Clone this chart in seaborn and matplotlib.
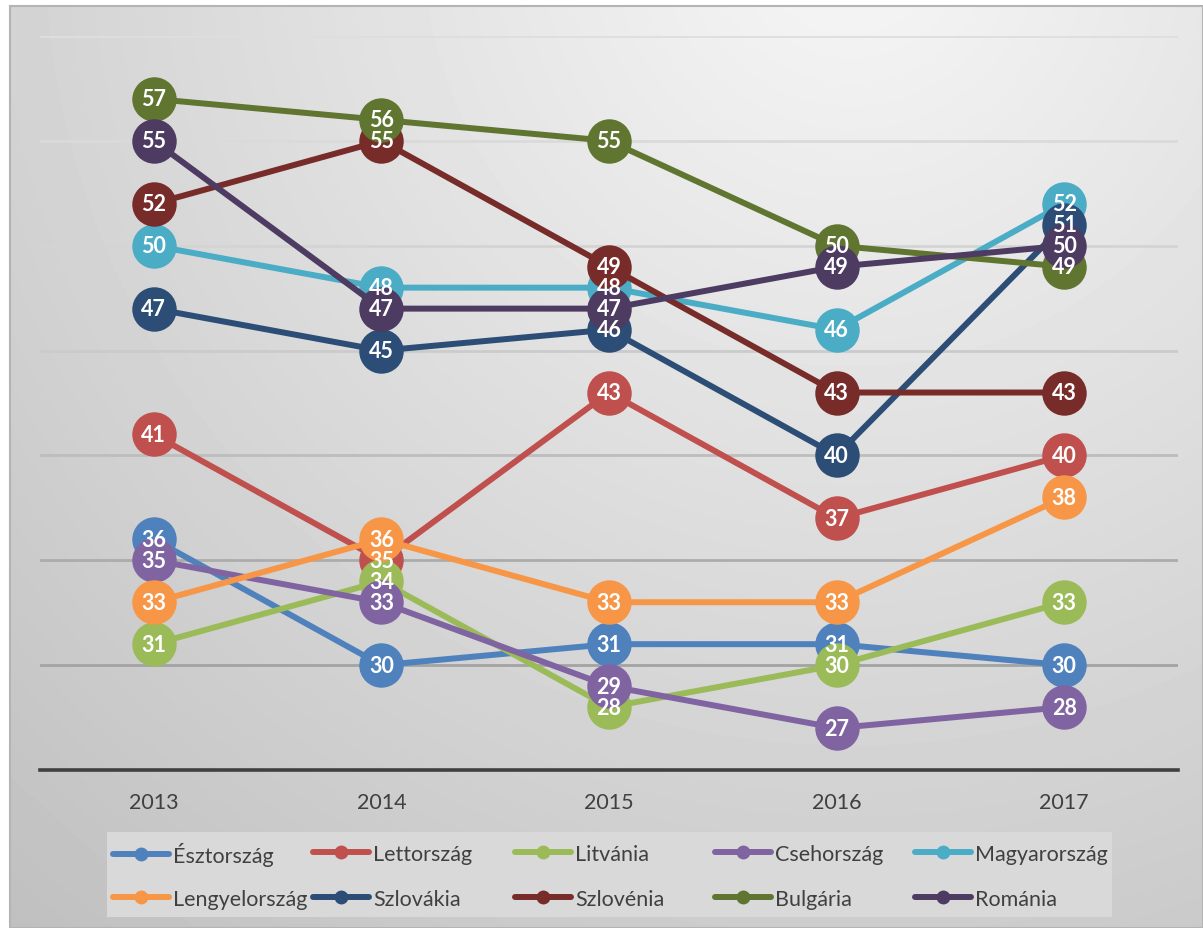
import numpy as np
import pandas as pd
import matplotlib
matplotlib.use("Agg")
import matplotlib.pyplot as plt
import seaborn as sns
from matplotlib.lines import Line2D
from matplotlib.patches import Rectangle

# ---------------- data ----------------
years = ["2013", "2014", "2015", "2016", "2017"]
countries = ["Észtország", "Lettország", "Litvánia", "Csehország", "Magyarország",
             "Lengyelország", "Szlovákia", "Szlovénia", "Bulgária", "Románia"]
esztorszag = [36, 30, 31, 31, 30]
lettorszag = [41, 35, 43, 37, 40]
litvania = [31, 34, 28, 30, 33]
csehorszag = [35, 33, 29, 27, 28]
magyarorszag = [50, 48, 48, 46, 52]
lengyelorszag = [33, 36, 33, 33, 38]
szlovakia = [47, 45, 46, 40, 51]
szlovenia = [52, 55, 49, 43, 43]
bulgaria = [57, 56, 55, 50, 49]
romania = [55, 47, 47, 49, 50]
series = [esztorszag, lettorszag, litvania, csehorszag, magyarorszag,
          lengyelorszag, szlovakia, szlovenia, bulgaria, romania]
colors = ["#4F81BD", "#C0504D", "#9BBB59", "#8064A2", "#4BACC6",
          "#F79646", "#2C4D75", "#772C2A", "#5F7530", "#4D3B62"]
grid_values = [30, 35, 40, 45, 50, 55, 60]

rows = []
for name, vals in zip(countries, series):
    for yr, v in zip(years, vals):
        rows.append({"country": name, "year": yr, "value": v})
df = pd.DataFrame(rows)

# ---------------- style ----------------
sns.set_theme(style="white")
plt.rcParams["font.family"] = ["Lato", "DejaVu Sans"]

W, H = 1203, 929
fig = plt.figure(figsize=(W / 100, H / 100), dpi=100)
fig.patch.set_facecolor("white")

# background gradient of chart area
bg = fig.add_axes([0, 0, 1, 1])
bg.set_xlim(0, W)
bg.set_ylim(H, 0)
bg.axis("off")
yy, xx = np.mgrid[7:H, 10:W]
dist = np.hypot(xx - 850, yy + 60)
v = np.clip(0.965 - 0.000165 * dist, 0, 1)
bg.imshow(v, cmap="gray", vmin=0, vmax=1, extent=(10, W, H, 7),
          aspect="auto", interpolation="bilinear", zorder=0)
bg.add_patch(Rectangle((10, 7), W - 10, H - 7, fill=False, ec="#b4b4b4", lw=1.5, zorder=1))
bg.add_patch(Rectangle((107, 833), 1005, 85, fc="#d9d9d9", ec="none", zorder=1))

# main plot
ax = fig.add_axes([40 / W, 1 - 771 / H, (1178 - 40) / W, (771 - 37) / H])
ax.set_facecolor("none")

grid_colors = ["#a3a3a3", "#acacac", "#bdbdbd", "#cbcbcb", "#d4d4d4", "#dadada", "#dedede"]
for gv, gc in zip(grid_values, grid_colors):
    ax.axhline(gv, color=gc, lw=2, zorder=0)

sns.lineplot(data=df, x="year", y="value", hue="country", hue_order=countries,
             palette=colors, marker="o", markersize=32, markeredgewidth=0,
             linewidth=4.3, legend=False, sort=False, ax=ax)

for name, vals in zip(countries, series):
    for i, val in enumerate(vals):
        ax.text(years[i], val, str(val), ha="center", va="center", color="white",
                fontsize=15.5, fontweight="bold", zorder=20)

ax.set_xlim(-0.5, len(years) - 0.5)
ax.set_ylim(25, 60)
ax.set_xlabel("")
ax.set_ylabel("")
ax.set_yticks([])
for s in ["left", "right", "top"]:
    ax.spines[s].set_visible(False)
ax.spines["bottom"].set_color("#404040")
ax.spines["bottom"].set_linewidth(2.6)
ax.tick_params(axis="x", length=0, pad=16, labelsize=15.5, labelcolor="#404040")

# legend: 5 columns x 2 rows, one entry per legend for exact alignment
col_x = [113, 313, 515, 715, 915]
row_y = [855, 900]
for k, name in enumerate(countries):
    c, r = k % 5, k // 5
    handle = Line2D([], [], color=colors[k], lw=4.3, marker="o", markersize=10,
                    markeredgewidth=0, solid_capstyle="round")
    fig.legend([handle], [name], loc="center left",
               bbox_to_anchor=(col_x[c] / W, 1 - row_y[r] / H), frameon=False,
               fontsize=15.5, labelcolor="#404040", handlelength=2.6,
               handletextpad=0.2, borderpad=0, borderaxespad=0)

fig.savefig("out.png", dpi=100)
